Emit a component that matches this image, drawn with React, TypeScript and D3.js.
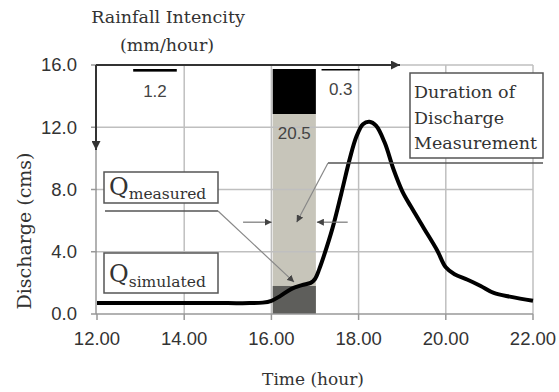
import { useRef, useEffect } from 'react';
import * as d3 from 'd3';

// Hydrograph (hour, cms)
const timeHours = [
  12, 13, 14, 15, 15.5, 15.8, 16.0, 16.2, 16.45, 16.7, 16.9, 17.0, 17.1, 17.2, 17.4, 17.6, 17.8, 17.95,
  18.1, 18.25, 18.4, 18.6, 18.8, 19.0, 19.2, 19.5, 19.8, 20.0, 20.2, 20.5, 20.8, 21.1, 21.5, 22,
];
const discharge = [
  0.7, 0.7, 0.7, 0.7, 0.7, 0.73, 0.85, 1.15, 1.6, 1.85, 2.0, 2.25, 2.9, 3.7, 5.5, 7.7, 10.0, 11.4,
  12.2, 12.35, 12.1, 11.0, 9.3, 7.9, 6.9, 5.5, 4.1, 3.0, 2.55, 2.2, 1.8, 1.35, 1.1, 0.85,
];

// Rainfall intensity bars (mm/hour), hung from the top
const rainStart = [12.83, 16.03, 17.15];
const rainEnd = [13.83, 17.02, 18.03];
const rainIntensity = [1.2, 20.5, 0.3];
const rainMax = 20.5;

// Duration of discharge measurement and simulated discharge
const measureStart = 16.03;
const measureEnd = 17.02;
const simulatedQ = 1.8;

const xTicks = [12, 14, 16, 18, 20, 22];
const yTicks = [0, 4, 8, 12, 16];

const serif = "'DejaVu Serif', serif";
const sans = "'Liberation Sans', Arial, sans-serif";
const ink = '#333';

export default function App() {
  const svgRef = useRef<SVGSVGElement>(null);
  const width = 559;
  const height = 392;

  useEffect(() => {
    if (!svgRef.current) return;
    const svg = d3.select(svgRef.current);
    svg.selectAll('*').remove();

    const x = d3.scaleLinear().domain([12, 22]).range([97, 533]);
    const y = d3.scaleLinear().domain([0, 16]).range([314, 65]);
    const rainY = d3.scaleLinear().domain([0, rainMax]).range([69, 114]);

    const defs = svg.append('defs');
    const marker = (id: string, color: string, size: number) =>
      defs
        .append('marker')
        .attr('id', id)
        .attr('viewBox', '0 -5 10 10')
        .attr('refX', 10)
        .attr('refY', 0)
        .attr('orient', 'auto')
        .attr('markerUnits', 'userSpaceOnUse')
        .attr('markerWidth', size)
        .attr('markerHeight', size)
        .append('path')
        .attr('d', 'M0,-5L10,0L0,5Z')
        .attr('fill', color);
    marker('axisArrow', '#333', 9);
    marker('noteArrow', '#444', 7);

    // measurement band (below the big rain bar) and simulated discharge block
    svg
      .append('rect')
      .attr('x', x(measureStart))
      .attr('y', rainY(rainMax))
      .attr('width', x(measureEnd) - x(measureStart))
      .attr('height', y(0) - rainY(rainMax))
      .attr('fill', '#c7c5ba');

    svg
      .append('rect')
      .attr('x', x(measureStart))
      .attr('y', y(simulatedQ))
      .attr('width', x(measureEnd) - x(measureStart))
      .attr('height', y(0) - y(simulatedQ))
      .attr('fill', '#5e5e5b');

    // grid
    svg
      .append('g')
      .selectAll('line')
      .data(yTicks.slice(1))
      .join('line')
      .attr('x1', x(12))
      .attr('x2', x(22))
      .attr('y1', (d) => y(d))
      .attr('y2', (d) => y(d))
      .attr('stroke', '#bfbfbf')
      .attr('stroke-width', 1.5);

    svg
      .append('g')
      .selectAll('line')
      .data(xTicks.slice(1))
      .join('line')
      .attr('x1', (d) => x(d))
      .attr('x2', (d) => x(d))
      .attr('y1', y(16))
      .attr('y2', y(0))
      .attr('stroke', '#bfbfbf')
      .attr('stroke-width', 1.5);

    // axes
    svg
      .append('line')
      .attr('x1', x(12) - 1)
      .attr('x2', x(12) - 1)
      .attr('y1', y(16))
      .attr('y2', y(0))
      .attr('stroke', '#999')
      .attr('stroke-width', 1.5);
    svg
      .append('line')
      .attr('x1', x(12) - 1)
      .attr('x2', x(22))
      .attr('y1', y(0))
      .attr('y2', y(0))
      .attr('stroke', '#999')
      .attr('stroke-width', 1.5);

    svg
      .append('g')
      .selectAll('line')
      .data(yTicks)
      .join('line')
      .attr('x1', x(12) - 6)
      .attr('x2', x(12))
      .attr('y1', (d) => y(d))
      .attr('y2', (d) => y(d))
      .attr('stroke', '#999')
      .attr('stroke-width', 1.5);
    svg
      .append('g')
      .selectAll('line')
      .data(xTicks)
      .join('line')
      .attr('x1', (d) => x(d))
      .attr('x2', (d) => x(d))
      .attr('y1', y(0))
      .attr('y2', y(0) + 6)
      .attr('stroke', '#999')
      .attr('stroke-width', 1.5);

    svg
      .append('g')
      .selectAll('text')
      .data(yTicks)
      .join('text')
      .attr('x', 77)
      .attr('y', (d) => y(d))
      .attr('dy', '0.35em')
      .attr('text-anchor', 'end')
      .attr('font-family', sans)
      .attr('font-size', 18.5)
      .attr('fill', ink)
      .text((d) => d.toFixed(1));

    svg
      .append('g')
      .selectAll('text')
      .data(xTicks)
      .join('text')
      .attr('x', (d) => x(d))
      .attr('y', 339)
      .attr('dy', '0.35em')
      .attr('text-anchor', 'middle')
      .attr('font-family', sans)
      .attr('font-size', 18.5)
      .attr('fill', ink)
      .text((d) => d.toFixed(2));

    // rainfall bars
    const rain = rainIntensity.map((v, i) => ({ v, s: rainStart[i], e: rainEnd[i] }));
    svg
      .append('g')
      .selectAll('rect')
      .data(rain)
      .join('rect')
      .attr('x', (d) => x(d.s))
      .attr('y', rainY(0))
      .attr('width', (d) => x(d.e) - x(d.s))
      .attr('height', (d) => Math.max(1.5, rainY(d.v) - rainY(0)))
      .attr('fill', '#000');

    svg
      .append('g')
      .selectAll('text')
      .data(rain)
      .join('text')
      .attr('x', (d) => (x(d.s) + x(d.e)) / 2)
      .attr('y', (d) => Math.max(rainY(d.v), rainY(0) + 1.5) + 19)
      .attr('dy', '0.35em')
      .attr('text-anchor', 'middle')
      .attr('font-family', sans)
      .attr('font-size', 17)
      .attr('fill', '#444')
      .text((d) => d.v.toFixed(1));

    // secondary (rain) axis arrows
    svg
      .append('line')
      .attr('x1', x(12) - 1)
      .attr('y1', y(16))
      .attr('x2', 400)
      .attr('y2', y(16))
      .attr('stroke', '#333')
      .attr('stroke-width', 2)
      .attr('marker-end', 'url(#axisArrow)');
    svg
      .append('line')
      .attr('x1', x(12) - 1)
      .attr('y1', y(16))
      .attr('x2', x(12) - 1)
      .attr('y2', 150)
      .attr('stroke', '#333')
      .attr('stroke-width', 2)
      .attr('marker-end', 'url(#axisArrow)');

    // hydrograph
    const pts = timeHours.map((t, i) => [t, discharge[i]] as [number, number]);
    const line = d3
      .line<[number, number]>()
      .x((d) => x(d[0]))
      .y((d) => y(d[1]))
      .curve(d3.curveCatmullRom.alpha(0.5));
    svg
      .append('path')
      .datum(pts)
      .attr('d', line)
      .attr('fill', 'none')
      .attr('stroke', '#000')
      .attr('stroke-width', 4)
      .attr('stroke-linejoin', 'round');

    // inward arrows marking the measurement window
    const bandY = y(5.9);
    svg
      .append('line')
      .attr('x1', x(15.35))
      .attr('y1', bandY)
      .attr('x2', x(measureStart) - 1)
      .attr('y2', bandY)
      .attr('stroke', '#777')
      .attr('stroke-width', 1.2)
      .attr('marker-end', 'url(#noteArrow)');
    svg
      .append('line')
      .attr('x1', x(17.75))
      .attr('y1', bandY)
      .attr('x2', x(measureEnd) + 1)
      .attr('y2', bandY)
      .attr('stroke', '#777')
      .attr('stroke-width', 1.2)
      .attr('marker-end', 'url(#noteArrow)');

    // "Duration of Discharge Measurement" note
    svg
      .append('rect')
      .attr('x', 410)
      .attr('y', 73)
      .attr('width', 133)
      .attr('height', 85)
      .attr('fill', '#fff')
      .attr('stroke', '#555')
      .attr('stroke-width', 1.5);
    svg
      .append('text')
      .attr('font-family', serif)
      .attr('font-size', 17.5)
      .attr('fill', ink)
      .selectAll('tspan')
      .data(['Duration of', 'Discharge', 'Measurement'])
      .join('tspan')
      .attr('x', 414)
      .attr('y', (_, i) => 98 + i * 25.5)
      .text((d) => d);
    svg
      .append('path')
      .attr('d', `M543,163H328`)
      .attr('fill', 'none')
      .attr('stroke', '#555')
      .attr('stroke-width', 1.5);
    svg
      .append('line')
      .attr('x1', 328)
      .attr('y1', 163)
      .attr('x2', x(16.58))
      .attr('y2', y(5.9))
      .attr('stroke', '#888')
      .attr('stroke-width', 1.2)
      .attr('marker-end', 'url(#noteArrow)');

    // Q measured note
    svg
      .append('rect')
      .attr('x', 104)
      .attr('y', 172)
      .attr('width', 114)
      .attr('height', 31)
      .attr('fill', '#fff')
      .attr('stroke', '#555')
      .attr('stroke-width', 1.5);
    const qm = svg
      .append('text')
      .attr('x', 109)
      .attr('y', 195)
      .attr('font-family', serif)
      .attr('fill', ink);
    qm.append('tspan').attr('font-size', 24).text('Q');
    qm.append('tspan').attr('font-size', 15.5).attr('dy', 4).text('measured');
    svg
      .append('path')
      .attr('d', `M105,211H218`)
      .attr('stroke', '#555')
      .attr('stroke-width', 1.5);
    svg
      .append('line')
      .attr('x1', 218)
      .attr('y1', 211)
      .attr('x2', x(16.52))
      .attr('y2', y(2.05))
      .attr('stroke', '#888')
      .attr('stroke-width', 1.2)
      .attr('marker-end', 'url(#noteArrow)');

    // Q simulated note
    svg
      .append('rect')
      .attr('x', 104)
      .attr('y', 253)
      .attr('width', 114)
      .attr('height', 40)
      .attr('fill', '#fff')
      .attr('stroke', '#555')
      .attr('stroke-width', 1.5);
    const qs = svg
      .append('text')
      .attr('x', 109)
      .attr('y', 282)
      .attr('font-family', serif)
      .attr('fill', ink);
    qs.append('tspan').attr('font-size', 24).text('Q');
    qs.append('tspan').attr('font-size', 15.5).attr('dy', 5).text('simulated');

    // titles
    svg
      .append('text')
      .attr('x', 168)
      .attr('y', 23)
      .attr('text-anchor', 'middle')
      .attr('font-family', serif)
      .attr('font-size', 17.5)
      .attr('fill', ink)
      .text('Rainfall Intencity');
    svg
      .append('text')
      .attr('x', 167)
      .attr('y', 51)
      .attr('text-anchor', 'middle')
      .attr('font-family', serif)
      .attr('font-size', 17.5)
      .attr('fill', ink)
      .text('(mm/hour)');
    svg
      .append('text')
      .attr('x', 313)
      .attr('y', 385)
      .attr('text-anchor', 'middle')
      .attr('font-family', serif)
      .attr('font-size', 17)
      .attr('fill', ink)
      .text('Time (hour)');
    svg
      .append('text')
      .attr('transform', 'translate(31,231) rotate(-90)')
      .attr('text-anchor', 'middle')
      .attr('font-family', serif)
      .attr('font-size', 19)
      .attr('fill', ink)
      .text('Discharge (cms)');
  }, []);

  return (
    <svg
      ref={svgRef}
      width={width}
      height={height}
      style={{ position: 'absolute', left: 0, top: 0, background: '#fff' }}
    />
  );
}
